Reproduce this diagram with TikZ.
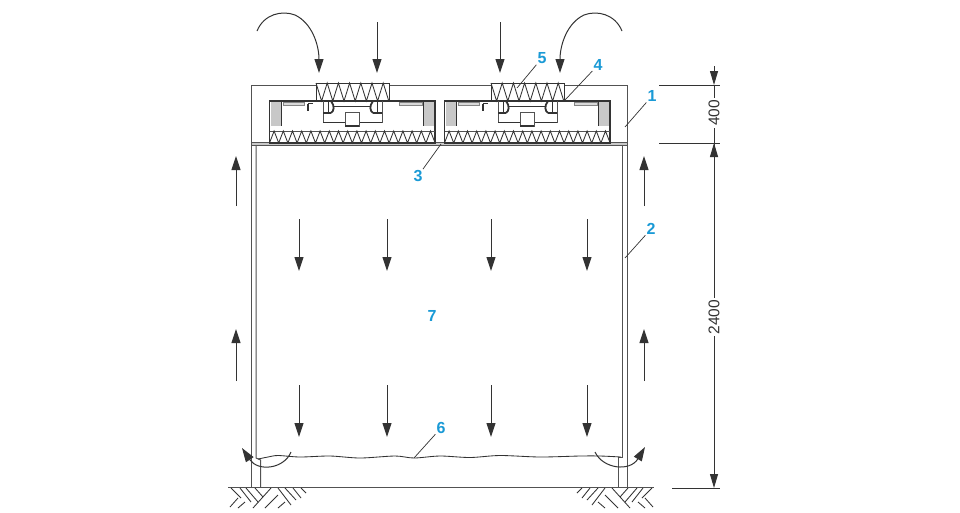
\documentclass[tikz,border=0pt]{standalone}
\usepackage{fontspec}
\setmainfont{Liberation Sans}
\usetikzlibrary{arrows.meta,calc}
\definecolor{inkgrey}{HTML}{333333}
\definecolor{callblue}{HTML}{1A9AD6}
\definecolor{blockgrey}{HTML}{C8C8C8}
\tikzset{
  wall/.style={draw=inkgrey!85,line width=1pt},
  heavy/.style={draw=inkgrey,line width=1.8pt},
  thin part/.style={draw=inkgrey,line width=0.85pt},
  flow/.style={draw=inkgrey,line width=1pt,-{Triangle[length=14pt,width=9pt]}},
  leader/.style={draw=inkgrey,line width=0.7pt},
  callout/.style={text=callblue,font=\bfseries\fontsize{16}{16}\selectfont,inner sep=1pt},
  dimtext/.style={text=inkgrey,font=\fontsize{15.5}{15.5}\selectfont,rotate=90,inner sep=2pt},
  dimline/.style={draw=inkgrey,line width=1pt},
  dimarrow/.style={dimline,-{Triangle[length=14pt,width=8pt]}},
  hatch/.style={draw=inkgrey,line width=0.85pt}
}
% one filter unit, drawn at the position of the left one
\newcommand{\filterunit}{
  \draw[thin part,fill=white] (316,83) rectangle (389,101);
  \draw[thin part] (316,83) foreach \i in {1,...,6} {-- ++(5.6,18) -- ++(5.6,-18)} -- ++(5.6,18);
  \draw[heavy] (316,101) -- (269.5,101) -- (269.5,143) -- (435,143) -- (435,101) -- (389,101);
  \draw[heavy] (316,101) -- (389,101);
  \draw[wall] (269.5,131) -- (435,131);
  \draw[thin part] (269.5,143) foreach \i in {1,...,18} {-- ++(4.6,-12) -- ++(4.6,12)};
  \fill[blockgrey] (271,102) rectangle (281.5,126);
  \fill[blockgrey] (423,102) rectangle (434,126);
  \draw[thin part] (281.5,102) -- (281.5,126) (423,102) -- (423,126);
  \draw[draw=inkgrey!60,line width=0.5pt,fill=blockgrey!70] (283,102) rectangle (304,105.5);
  \draw[draw=inkgrey!60,line width=0.5pt,fill=blockgrey!70] (399,102) rectangle (422,105.5);
  \draw[heavy] (308,103.5) -- (313,103.5) (308,103.5) -- (308,111);
  \draw[wall] (323,101) -- (323,122.5) (382,101) -- (382,122.5);
  \draw[heavy] (323,122.5) -- (345,122.5) (359,122.5) -- (382,122.5);
  \draw[heavy] (323,113) -- (331,113) (373,113) -- (382,113);
  \draw[heavy] (331,101) .. controls (335,106) and (334,111) .. (331,113);
  \draw[heavy] (373,101) .. controls (369,106) and (370,111) .. (373,113);
  \draw[thin part] (328,101) -- (328,113) (377,101) -- (377,113) (333,106) -- (371,106);
  \draw[wall,fill=white] (345,112) rectangle (359,126);
  \draw[heavy] (345,126) -- (359,126);
}
% herringbone under one wall foot
\newcommand{\groundhatch}{
  \foreach \xa/\ya/\xb/\yb in {5/488/0/493,13/488/5/498,21/488/10/500,28/488/15/505,
    51/488/43/497,60/488/48/502,66/488/55/502,75/488/65/498,
    35/488/53/508,28/495/41/508,21/502/28/508,68/498/76/507,61/502/68/508}
    \draw[hatch] (\xa,\ya) -- (\xb,\yb);
}
\begin{document}
\begin{tikzpicture}[x=1pt,y=-1pt]
\useasboundingbox (0,0) rectangle (960,512);
\fill[white] (0,0) rectangle (960,512);
% casing and walls
\draw[wall] (316,85) -- (251.7,85) -- (251.7,487);
\draw[wall] (389,85) -- (491,85) (563,85) -- (627.7,85) -- (627.7,487);
\draw[wall,fill=blockgrey] (251.7,142) rectangle (627.7,145);
\draw[wall] (256,145) -- (256,458) -- (260.7,460) -- (260.7,487);
\draw[wall] (622,145) -- (622,457) -- (618,457) -- (618,487);
\filterunit
\begin{scope}[xshift=175pt]
\filterunit
\end{scope}
% curtain edge
\draw[thin part] plot[smooth] coordinates {(258,459) (268,457) (278,455.5) (300,457) (330,456) (360,458) (395,456) (414,458) (440,456) (470,457.5) (500,455.5) (540,457) (580,456) (600,456) (621,457)};
% floor
\draw[wall] (228,487.5) -- (654,487.5);
\begin{scope}[xshift=306pt,xscale=-1]
\groundhatch
\end{scope}
\begin{scope}[xshift=577pt]
\groundhatch
\end{scope}
% air flow
\draw[flow] (257,31) .. controls (264,14) and (282,10) .. (295,15) .. controls (312,23) and (319,45) .. (319,73);
\draw[flow] (622,31) .. controls (615,14) and (597,10) .. (584,15) .. controls (567,23) and (560,45) .. (560,73);
\foreach \x in {377,500}
  \draw[flow] (\x,22) -- (\x,73);
\foreach \x in {299,387,491,587} {
  \draw[flow] (\x,219) -- (\x,271);
  \draw[flow] (\x,385) -- (\x,437);
}
\foreach \x in {236,644} {
  \draw[flow] (\x,206) -- (\x,156);
  \draw[flow] (\x,381) -- (\x,329);
}
\draw[flow] (291,452) .. controls (284,469) and (258,472) .. (242,448);
\draw[flow] (595,452) .. controls (603,469) and (630,472) .. (645,447);
% dimensions
\coordinate (top a) at (659,85);
\coordinate (top b) at (720,85);
\coordinate (mid a) at (659,143);
\coordinate (mid b) at (720,143);
\coordinate (low a) at (672,488);
\coordinate (low b) at (720,488);
\draw[dimline] (top a) -- (top b);
\draw[dimline] (mid a) -- (mid b);
\draw[dimline] (low a) -- (low b);
\node[dimtext] (dim400) at (714,113) {400};
\node[dimtext] (dim2400) at (714,317) {2400};
\coordinate (tip a) at (714,85);
\coordinate (tip b) at (714,143);
\coordinate (tip c) at (714,488);
\draw[dimarrow] (714,66) -- (tip a);
\draw[dimline] (tip a) -- (dim400);
\draw[dimline] (dim400) -- (tip b);
\draw[dimarrow] (714,165) -- (tip b);
\draw[dimline] (tip b) -- (dim2400);
\draw[dimarrow] (dim2400) -- (tip c);
% callouts
\node[callout] (lab1) at (652,96) {1};
\node[callout] (lab2) at (651,229) {2};
\node[callout] (lab3) at (418,176) {3};
\node[callout] (lab4) at (598,65) {4};
\node[callout] (lab5) at (542,58) {5};
\node[callout] (lab6) at (441,428) {6};
\node[callout] (lab7) at (432,316) {7};
\coordinate (end1) at (625,127);
\coordinate (end2) at (625,258);
\coordinate (end3) at (441,144);
\coordinate (end4) at (565,100);
\coordinate (end5) at (517,88);
\coordinate (end6) at (414,458);
\draw[leader] (lab1) -- (end1);
\draw[leader] (lab2) -- (end2);
\draw[leader] (lab3) -- (end3);
\draw[leader] (lab4) -- (end4);
\draw[leader] (lab5) -- (end5);
\draw[leader] (lab6) -- (end6);
\end{tikzpicture}
\end{document}
